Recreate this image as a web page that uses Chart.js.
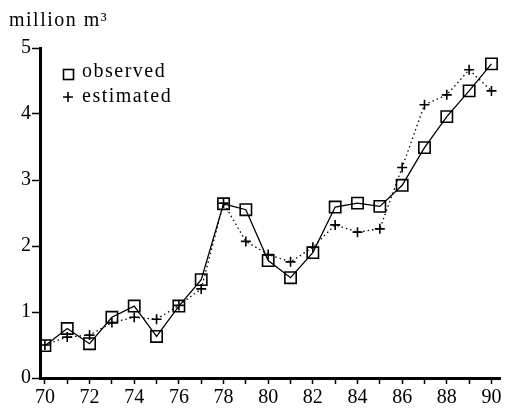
<!DOCTYPE html>
<html>
<head>
<meta charset="utf-8">
<script src="https://cdn.jsdelivr.net/npm/chart.js@4"></script>
<style>
  html, body { margin: 0; padding: 0; background: #fff; }
  #wrap { width: 510px; height: 411px; }
</style>
</head>
<body>
<div id="wrap"><canvas id="waterChart"></canvas></div>
<script>
const years = [70, 71, 72, 73, 74, 75, 76, 77, 78, 79, 80, 81, 82, 83, 84, 85, 86, 87, 88, 89, 90];
const observed = [0.49, 0.75, 0.52, 0.92, 1.09, 0.63, 1.09, 1.49, 2.64, 2.55, 1.78, 1.52, 1.90, 2.59, 2.65, 2.60, 2.92, 3.49, 3.96, 4.35, 4.76];
const estimated = [0.50, 0.62, 0.65, 0.84, 0.92, 0.89, 1.10, 1.35, 2.65, 2.07, 1.87, 1.76, 1.98, 2.32, 2.21, 2.26, 3.19, 4.14, 4.29, 4.67, 4.35];
const yTicks = [0, 1, 2, 3, 4, 5];
const unitLabel = 'million m\u00b3';

const serif = '"Liberation Serif", "DejaVu Serif", serif';
const ctx = document.getElementById('waterChart').getContext('2d');

// title + legend drawn inside the plot like the printed figure
const annotate = {
    id: 'annotate',
    afterDraw(chart) {
        const c = chart.ctx;
        c.save();
        c.fillStyle = '#000';
        c.font = '20px ' + serif;
        c.letterSpacing = '1.5px';
        c.textBaseline = 'middle';
        c.textAlign = 'left';
        c.fillText(unitLabel, 9, 21);

        const sets = chart.data.datasets;
        // observed: hollow square
        c.strokeStyle = '#000';
        c.lineWidth = 1.6;
        c.strokeRect(63.5, 69.5, 10, 10);
        c.fillText(sets[0].label, 82, 72);
        // estimated: plus
        c.beginPath();
        c.moveTo(63, 97); c.lineTo(73, 97);
        c.moveTo(68, 92); c.lineTo(68, 102);
        c.stroke();
        c.fillText(sets[1].label, 82, 97);
        c.restore();
    }
};

new Chart(ctx, {
    type: 'line',
    data: {
        datasets: [{
            label: 'observed',
            data: years.map((y, i) => ({ x: y, y: observed[i] })),
            borderColor: '#000',
            borderWidth: 1.3,
            pointStyle: 'rect',
            pointRadius: 8,
            pointBorderWidth: 1.6,
            pointBorderColor: '#000',
            pointBackgroundColor: 'rgba(0,0,0,0)',
            tension: 0
        }, {
            label: 'estimated',
            data: years.map((y, i) => ({ x: y, y: estimated[i] })),
            borderColor: '#000',
            borderWidth: 1.3,
            borderDash: [1.5, 3],
            pointStyle: 'cross',
            pointRadius: 5,
            pointBorderWidth: 1.6,
            pointBorderColor: '#000',
            tension: 0
        }]
    },
    options: {
        responsive: true,
        maintainAspectRatio: false,
        animation: false,
        layout: { padding: { top: 48, right: 5, left: 0, bottom: 0 } },
        scales: {
            x: {
                type: 'linear',
                min: 69.78,
                max: 90.4,
                afterBuildTicks: scale => { scale.ticks = years.map(v => ({ value: v })); },
                afterFit: scale => { scale.height = 33; },
                border: { color: '#000', width: 3 },
                grid: { drawOnChartArea: false, color: '#000', tickLength: 6, tickWidth: 1.5 },
                ticks: {
                    color: '#000',
                    font: { family: serif, size: 20, lineHeight: 1 },
                    padding: 4,
                    maxRotation: 0,
                    autoSkip: false,
                    callback: v => (v % 2 === 0 ? String(v) : '')
                }
            },
            y: {
                min: 0,
                max: 5,
                afterBuildTicks: scale => { scale.ticks = yTicks.map(v => ({ value: v })); },
                afterFit: scale => { scale.width = 40; },
                border: { color: '#000', width: 3 },
                grid: { drawOnChartArea: false, color: '#000', tickLength: 8, tickWidth: 1.5 },
                ticks: {
                    color: '#000',
                    font: { family: serif, size: 20 },
                    padding: 1
                }
            }
        },
        plugins: {
            legend: { display: false },
            tooltip: { enabled: false }
        }
    },
    plugins: [annotate]
});
</script>
</body>
</html>
